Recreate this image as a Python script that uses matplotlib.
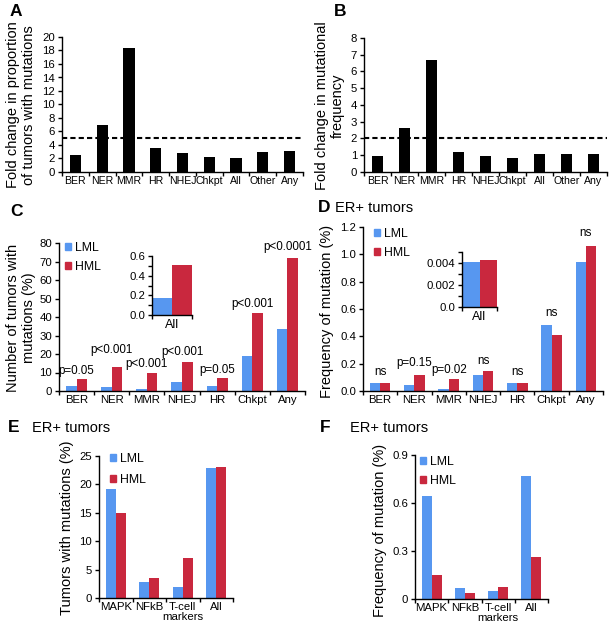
import numpy as np
import matplotlib
matplotlib.use("Agg")
import matplotlib.pyplot as plt
from matplotlib.patches import Patch

plt.rcParams['font.family'] = ['Liberation Sans', 'DejaVu Sans']

W, H = 611, 628
BLUE = "#5797F0"
RED = "#C9283E"

# A / B: fold changes
cats_ab = ["BER", "NER", "MMR", "HR", "NHEJ", "Chkpt", "All", "Other", "Any"]
fold_prop = [2.5, 6.9, 18.4, 3.5, 2.8, 2.2, 2.1, 2.9, 3.1]
fold_freq = [0.95, 2.6, 6.7, 1.2, 0.95, 0.85, 1.1, 1.1, 1.05]
thr_prop = 5
thr_freq = 2

# C / D: LML vs HML
cats_cd = ["BER", "NER", "MMR", "NHEJ", "HR", "Chkpt", "Any"]
c_lml = [2.5, 2.0, 0.9, 4.7, 2.5, 18.9, 33.6]
c_hml = [6.3, 12.8, 9.7, 15.8, 6.8, 42.3, 72.1]
c_pvals = ["p=0.05", "p<0.001", "p<0.001", "p<0.001", "p=0.05", "p<0.001", "p<0.0001"]
c_all = [0.17, 0.51]
d_lml = [0.058, 0.044, 0.015, 0.12, 0.058, 0.484, 0.944]
d_hml = [0.058, 0.12, 0.088, 0.144, 0.058, 0.41, 1.06]
d_pvals = ["ns", "p=0.15", "p=0.02", "ns", "ns", "ns", "ns"]
d_all = [0.0041, 0.0043]

# E / F: pathways
cats_ef = ["MAPK", "NFkB", "T-cell\nmarkers", "All"]
e_lml = [19.2, 2.9, 2.0, 22.9]
e_hml = [14.9, 3.6, 7.1, 23.1]
f_lml = [0.643, 0.071, 0.05, 0.766]
f_hml = [0.152, 0.035, 0.075, 0.265]

fig = plt.figure(figsize=(W / 100, H / 100), dpi=100)


def px_axes(left, top, right, bottom):
    return fig.add_axes([left / W, 1 - bottom / H, (right - left) / W, (bottom - top) / H])


def style(ax, cats, fs=8.2):
    n = len(cats)
    for s in ("top", "right"):
        ax.spines[s].set_visible(False)
    ax.spines["left"].set_linewidth(1.0)
    ax.spines["bottom"].set_linewidth(1.0)
    ax.set_xlim(-0.5, n - 0.5)
    ax.set_xticks(np.arange(n))
    ax.set_xticklabels(cats, fontsize=fs, linespacing=0.95)
    ax.set_xticks(np.arange(n + 1) - 0.5, minor=True)
    ax.tick_params(axis="x", which="major", length=0, pad=3)
    ax.tick_params(axis="x", which="minor", length=3, width=1.0)
    ax.tick_params(axis="y", length=3, width=1.0, labelsize=8.2, pad=2)


def pair_bars(ax, lml, hml, w=0.3):
    x = np.arange(len(lml))
    ax.bar(x - w / 2, lml, w, color=BLUE)
    ax.bar(x + w / 2, hml, w, color=RED)


def legend(ax, x, y, spacing=0.55):
    ax.legend(handles=[Patch(color=BLUE, label="LML"), Patch(color=RED, label="HML")],
              loc="upper left", bbox_to_anchor=(x / W, 1 - y / H),
              bbox_transform=fig.transFigure, frameon=False, fontsize=8.8,
              handlelength=0.5, handleheight=0.5, handletextpad=0.35,
              labelspacing=spacing, borderpad=0, borderaxespad=0)


def ylab(x, y, s):
    fig.text(x / W, 1 - y / H, s, rotation=90, ha="center", va="center",
             fontsize=10.5, linespacing=1.2, multialignment="center")


def panel(x, y, letter, sub=None):
    fig.text(x / W, 1 - y / H, letter, fontsize=12.5, fontweight="bold", va="center")
    if sub:
        fig.text((x + 17) / W, 1 - y / H, sub, fontsize=10.5, va="center")


# ---- A
ax = px_axes(62, 37, 303, 172)
ax.bar(np.arange(len(fold_prop)), fold_prop, 0.42, color="black")
ax.axhline(thr_prop, ls=(0, (2.5, 1.5)), lw=1.5, color="black")
style(ax, cats_ab, fs=7.6)
ax.set_ylim(0, 20)
ax.set_yticks(np.arange(0, 21, 2))
ylab(21, 105, "Fold change in proportion\nof tumors with mutations")
panel(10, 12, "A")

# ---- B
ax = px_axes(364, 38, 607, 172)
ax.bar(np.arange(len(fold_freq)), fold_freq, 0.42, color="black")
ax.axhline(thr_freq, ls=(0, (2.5, 1.5)), lw=1.5, color="black")
style(ax, cats_ab, fs=7.6)
ax.set_ylim(0, 8)
ax.set_yticks(np.arange(0, 9, 1))
ylab(330, 106, "Fold change in mutational\nfrequency")
panel(334, 12, "B")

# ---- C
ax = px_axes(59, 243, 305, 391)
pair_bars(ax, c_lml, c_hml)
style(ax, cats_cd)
ax.set_ylim(0, 80)
ax.set_yticks(np.arange(0, 81, 10))
c_off = [2, 8, 2, 3, 2, 2, 3]
for i, (t, o) in enumerate(zip(c_pvals, c_off)):
    ax.annotate(t, (i, max(c_lml[i], c_hml[i])), xytext=(0, o), textcoords="offset points",
                ha="center", va="bottom", fontsize=8.4, annotation_clip=False)
legend(ax, 65, 242)
ylab(21, 318, "Number of tumors with\nmutations (%)")
panel(10, 212, "C")

ax = px_axes(152, 256, 192, 315)
pair_bars(ax, [c_all[0]], [c_all[1]], w=0.5)
style(ax, ["All"], fs=9)
ax.set_ylim(0, 0.6)
ax.set_yticks([0, 0.2, 0.4, 0.6])
ax.set_yticks(np.arange(0, 0.61, 0.1), minor=True)
ax.set_yticklabels(["0.0", "0.2", "0.4", "0.6"])
ax.tick_params(axis="y", which="minor", length=3, width=1.0)

# ---- D
ax = px_axes(363, 227, 603, 391)
pair_bars(ax, d_lml, d_hml)
style(ax, cats_cd)
ax.set_ylim(0, 1.2)
ax.set_yticks(np.arange(0, 1.21, 0.2))
ax.set_yticklabels([f"{v:.1f}" for v in np.arange(0, 1.21, 0.2)])
d_off = [4, 4, 2, 3, 4, 4, 5]
for i, (t, o) in enumerate(zip(d_pvals, d_off)):
    ax.annotate(t, (i, max(d_lml[i], d_hml[i])), xytext=(0, o), textcoords="offset points",
                ha="center", va="bottom", fontsize=8.4)
legend(ax, 374, 228)
ylab(327, 311, "Frequency of mutation (%)")
panel(318, 208, "D", "ER+ tumors")

ax = px_axes(462, 252, 497, 307)
pair_bars(ax, [d_all[0]], [d_all[1]], w=0.5)
style(ax, ["All"], fs=9)
ax.set_ylim(0, 0.005)
ax.set_yticks([0, 0.002, 0.004])
ax.set_yticks(np.arange(0, 0.0051, 0.001), minor=True)
ax.set_yticklabels(["0.0", "0.002", "0.004"])
ax.tick_params(axis="y", which="minor", length=3, width=1.0)

# ---- E
ax = px_axes(99, 456, 233, 598)
pair_bars(ax, e_lml, e_hml)
style(ax, cats_ef)
ax.set_ylim(0, 25)
ax.set_yticks(np.arange(0, 26, 5))
legend(ax, 110, 453, spacing=0.7)
ylab(67, 528, "Tumors with mutations (%)")
panel(8, 428, "E")
fig.text(32 / W, 1 - 428 / H, "ER+ tumors", fontsize=10.5, va="center")

# ---- F
ax = px_axes(415, 455, 548, 599)
pair_bars(ax, f_lml, f_hml)
style(ax, cats_ef)
ax.set_ylim(0, 0.9)
ax.set_yticks([0, 0.3, 0.6, 0.9])
ax.set_yticklabels(["0", "0.3", "0.6", "0.9"])
legend(ax, 420, 456)
ylab(380, 530, "Frequency of mutation (%)")
panel(320, 428, "F")
fig.text(350 / W, 1 - 428 / H, "ER+ tumors", fontsize=10.5, va="center")

fig.savefig("out.png", dpi=100)
